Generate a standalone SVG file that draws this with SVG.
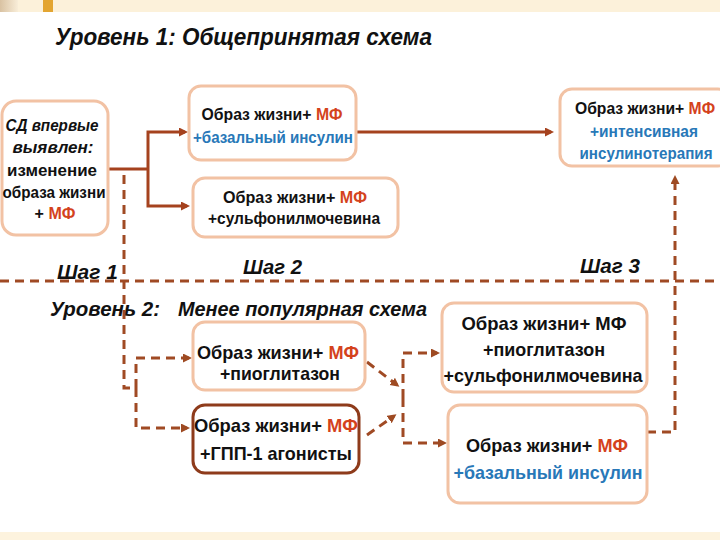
<svg xmlns="http://www.w3.org/2000/svg" width="720" height="540" viewBox="0 0 720 540">
<defs>
<linearGradient id="tan" x1="0" y1="0" x2="1" y2="0"><stop offset="0" stop-color="#D9C2A2"/><stop offset="1" stop-color="#F8EDD8"/></linearGradient>
<marker id="ah" markerWidth="10" markerHeight="10" refX="6" refY="4.5" orient="auto" markerUnits="userSpaceOnUse"><path d="M0,0 L9,4.5 L0,9 z" fill="#A5421E"/></marker>
<marker id="ahd" markerWidth="10" markerHeight="10" refX="6" refY="4.5" orient="auto" markerUnits="userSpaceOnUse"><path d="M0,0 L9,4.5 L0,9 z" fill="#9E4A22"/></marker>
</defs>
<style>
.box{fill:#fff;stroke:#F2C2A4;stroke-width:3}
.boxd{fill:#fff;stroke:#8E3B1B;stroke-width:3}
.t{font-family:"Liberation Sans",Arial,sans-serif;font-weight:bold;font-size:16px;fill:#111;text-anchor:middle}
.t2{font-size:18.5px}
.it{font-style:italic}
.mf{fill:#D4421C}
.bl{fill:#2878B8}
.h{font-family:"Liberation Sans",Arial,sans-serif;font-weight:bold;font-style:italic;fill:#111}
.solid{stroke:#A5421E;stroke-width:3;fill:none}
.dash{stroke:#A04A24;stroke-width:3;fill:none;stroke-dasharray:9 6}
</style>
<rect x="0" y="0" width="720" height="540" fill="#fff"/>
<rect x="0" y="0" width="720" height="12" fill="#FCF1DA"/>
<rect x="0" y="0" width="18" height="12" fill="url(#tan)"/>
<rect x="43" y="0" width="10" height="12" fill="#E3A531"/>
<rect x="0" y="532" width="720" height="8" fill="#FDF3DE"/>

<text class="h" x="55" y="45" font-size="24" textLength="377" lengthAdjust="spacingAndGlyphs">Уровень 1: Общепринятая схема</text>
<text class="h" x="57" y="279" font-size="21" textLength="61" lengthAdjust="spacingAndGlyphs">Шаг 1</text>
<text class="h" x="243" y="274" font-size="21" textLength="59" lengthAdjust="spacingAndGlyphs">Шаг 2</text>
<text class="h" x="580" y="273" font-size="21" textLength="60" lengthAdjust="spacingAndGlyphs">Шаг 3</text>
<text class="h" x="50" y="316" font-size="21" textLength="110" lengthAdjust="spacingAndGlyphs">Уровень 2:</text>
<text class="h" x="178" y="316" font-size="21" textLength="249" lengthAdjust="spacingAndGlyphs">Менее популярная схема</text>

<g id="connectors">
<path class="dash" d="M0,281 H720"/>
<path class="solid" d="M108,169 H148"/>
<path class="solid" d="M148,169 V132 H185" marker-end="url(#ah)"/>
<path class="solid" d="M148,169 V206 H187" marker-end="url(#ah)"/>
<path class="solid" d="M355,132 H551" marker-end="url(#ah)"/>
<path class="dash" d="M124,175 V388 H136"/>
<path class="dash" d="M136,388 V358 H189" marker-end="url(#ahd)"/>
<path class="dash" d="M136,388 V428 H187" marker-end="url(#ahd)"/>
<path class="dash" d="M367,362 L397,385" marker-end="url(#ahd)"/>
<path class="dash" d="M367,435 L394,416" marker-end="url(#ahd)"/>
<path class="dash" d="M403,398 V353 H437" marker-end="url(#ahd)"/>
<path class="dash" d="M403,398 V443 H444" marker-end="url(#ahd)"/>
<path class="dash" d="M647,432 H675 V178" marker-end="url(#ahd)"/>
</g>

<g id="nodeA">
<rect class="box" x="2" y="101" width="106" height="134" rx="14"/>
<text class="t it" x="52" y="131" textLength="93" lengthAdjust="spacingAndGlyphs">СД впервые</text>
<text class="t it" x="53" y="153" textLength="81" lengthAdjust="spacingAndGlyphs">выявлен:</text>
<text class="t" x="52" y="176" textLength="90" lengthAdjust="spacingAndGlyphs">изменение</text>
<text class="t" x="54" y="198" textLength="103" lengthAdjust="spacingAndGlyphs">образа жизни</text>
<text class="t" x="55" y="219">+ <tspan class="mf">МФ</tspan></text>
</g>
<g id="nodeB">
<rect class="box" x="189" y="86" width="167" height="74" rx="12"/>
<text class="t" x="272" y="120" textLength="141" lengthAdjust="spacingAndGlyphs">Образ жизни+ <tspan class="mf">МФ</tspan></text>
<text class="t bl" x="273" y="143" textLength="160" lengthAdjust="spacingAndGlyphs">+базальный инсулин</text>
</g>
<g id="nodeC">
<rect class="box" x="193" y="178" width="205" height="59" rx="12"/>
<text class="t" x="295" y="203" textLength="144" lengthAdjust="spacingAndGlyphs">Образ жизни+ <tspan class="mf">МФ</tspan></text>
<text class="t" x="294" y="224" textLength="172" lengthAdjust="spacingAndGlyphs">+сульфонилмочевина</text>
</g>
<g id="nodeD">
<rect class="box" x="560" y="89" width="170" height="77" rx="12"/>
<text class="t" x="645" y="114" textLength="140" lengthAdjust="spacingAndGlyphs">Образ жизни+ <tspan class="mf">МФ</tspan></text>
<text class="t bl" x="644" y="137" textLength="108" lengthAdjust="spacingAndGlyphs">+интенсивная</text>
<text class="t bl" x="646" y="159" textLength="133" lengthAdjust="spacingAndGlyphs">инсулинотерапия</text>
</g>
<g id="nodeE">
<rect class="box" x="193" y="322" width="172" height="68" rx="12"/>
<text class="t t2" x="278" y="359" textLength="162" lengthAdjust="spacingAndGlyphs">Образ жизни+ <tspan class="mf">МФ</tspan></text>
<text class="t t2" x="280" y="380" textLength="120" lengthAdjust="spacingAndGlyphs">+пиоглитазон</text>
</g>
<g id="nodeF">
<rect class="boxd" x="193" y="405" width="166" height="68" rx="12"/>
<text class="t t2" x="276" y="432" textLength="164" lengthAdjust="spacingAndGlyphs">Образ жизни+ <tspan class="mf">МФ</tspan></text>
<text class="t t2" x="276" y="460" textLength="152" lengthAdjust="spacingAndGlyphs">+ГПП-1 агонисты</text>
</g>
<g id="nodeG">
<rect class="box" x="442" y="303" width="205" height="89" rx="12"/>
<text class="t t2" x="544" y="330" textLength="165" lengthAdjust="spacingAndGlyphs">Образ жизни+ МФ</text>
<text class="t t2" x="544" y="356" textLength="122" lengthAdjust="spacingAndGlyphs">+пиоглитазон</text>
<text class="t t2" x="543" y="382" textLength="199" lengthAdjust="spacingAndGlyphs">+сульфонилмочевина</text>
</g>
<g id="nodeH">
<rect class="box" x="448" y="405" width="199" height="98" rx="12"/>
<text class="t t2" x="547" y="452" textLength="162" lengthAdjust="spacingAndGlyphs">Образ жизни+ <tspan class="mf">МФ</tspan></text>
<text class="t t2 bl" x="548" y="479" textLength="189" lengthAdjust="spacingAndGlyphs">+базальный инсулин</text>
</g>
</svg>
